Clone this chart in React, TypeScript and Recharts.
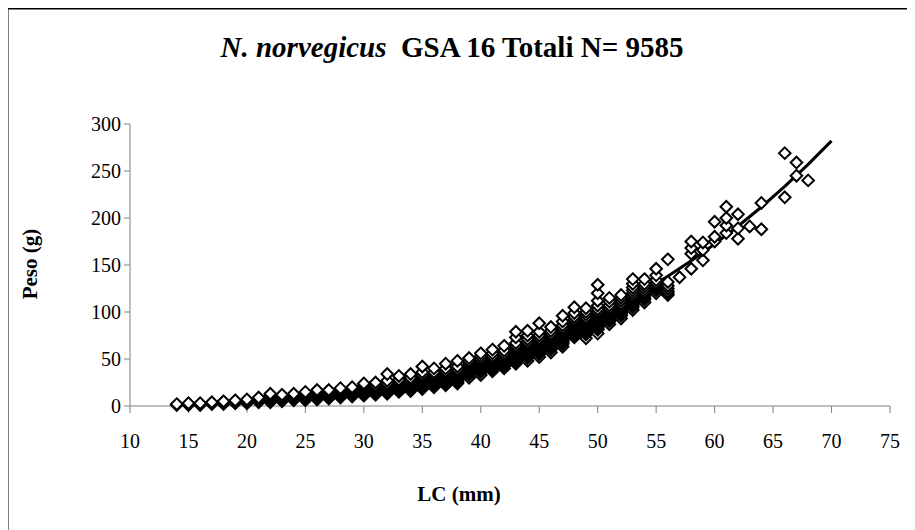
import React from 'react';
import { ScatterChart, Scatter, XAxis, YAxis } from 'recharts';

// LC (mm) classes and observed weights (g) per class
const lcClasses: number[] = [
  14, 15, 16, 17, 18, 19, 20, 21, 22, 23, 24, 25, 26, 27, 28, 29, 30, 31, 32, 33, 34,
  35, 36, 37, 38, 39, 40, 41, 42, 43, 44, 45, 46, 47, 48, 49, 50, 51, 52, 53, 54, 55,
  56, 57, 58, 59, 60, 61, 62, 63, 64, 66, 67, 68,
];

const weightsByClass: number[][] = [
  [1, 2],
  [1, 2, 3],
  [1, 2, 3],
  [2, 3, 4],
  [2, 3, 4, 5],
  [3, 4, 5, 6],
  [3, 4, 5, 6, 7],
  [4, 5, 6, 7, 9],
  [4, 5, 6, 7, 8, 9, 11, 13],
  [5, 6, 7, 8, 9, 10, 12],
  [6, 7, 8, 9, 10, 11, 13],
  [6, 7, 8, 9, 10, 11, 12, 13, 15],
  [7, 8, 9, 10, 11, 12, 13, 14, 15, 17],
  [8, 9, 10, 11, 12, 13, 14, 15, 17],
  [9, 10, 11, 12, 13, 14, 15, 16, 17, 19],
  [10, 11, 12, 13, 14, 15, 16, 17, 18, 20],
  [11, 12, 13, 14, 15, 16, 17, 18, 19, 20, 22, 24],
  [12, 13, 14, 15, 16, 17, 18, 19, 20, 21, 22, 25],
  [13, 14, 15, 16, 17, 18, 19, 20, 21, 22, 23, 24, 27, 34],
  [15, 16, 17, 18, 19, 20, 21, 22, 23, 24, 25, 26, 28, 32],
  [16, 17, 18, 19, 20, 21, 22, 23, 24, 25, 26, 27, 28, 30, 34],
  [18, 19, 20, 21, 22, 23, 24, 25, 26, 27, 28, 29, 30, 31, 33, 36, 42],
  [20, 21, 22, 23, 24, 25, 26, 27, 28, 29, 30, 31, 32, 34, 36, 40],
  [22, 23, 24, 25, 26, 27, 28, 29, 30, 31, 32, 33, 34, 35, 37, 40, 45],
  [24, 25, 26, 27, 28, 29, 30, 31, 32, 33, 34, 35, 36, 37, 39, 42, 48],
  [30, 33, 34, 35, 36, 37, 38, 39, 40, 41, 42, 43, 44, 46, 48, 51],
  [33, 36, 37, 38, 39, 40, 41, 42, 43, 44, 45, 46, 47, 48, 50, 53, 56],
  [37, 39, 40, 41, 42, 43, 44, 45, 46, 47, 48, 49, 50, 51, 53, 56, 60],
  [40, 42, 43, 44, 45, 46, 47, 48, 49, 50, 51, 52, 53, 54, 56, 59, 64],
  [45, 47, 48, 49, 50, 51, 52, 53, 54, 55, 56, 57, 58, 59, 60, 62, 64, 67, 73, 79],
  [48, 51, 52, 53, 54, 55, 56, 57, 58, 59, 60, 61, 62, 63, 64, 66, 68, 71, 75, 80],
  [52, 55, 56, 57, 58, 59, 60, 61, 62, 63, 64, 65, 66, 67, 68, 70, 72, 75, 79, 88],
  [57, 60, 61, 62, 63, 64, 65, 66, 67, 68, 69, 70, 71, 72, 73, 75, 77, 80, 84],
  [63, 66, 67, 68, 69, 70, 71, 72, 73, 74, 75, 76, 77, 78, 79, 81, 83, 86, 90, 96],
  [73, 75, 76, 77, 78, 79, 80, 81, 82, 83, 84, 85, 86, 87, 88, 89, 90, 92, 95, 99, 105],
  [72, 76, 77, 78, 79, 80, 81, 82, 83, 84, 85, 86, 87, 88, 89, 90, 92, 94, 97, 100, 104],
  [77, 81, 82, 83, 84, 85, 86, 87, 88, 89, 90, 91, 92, 93, 94, 95, 96, 98, 100, 103, 107, 112, 120, 129],
  [87, 90, 91, 92, 93, 94, 95, 96, 97, 98, 99, 100, 102, 104, 107, 111, 115],
  [93, 96, 97, 98, 99, 100, 101, 102, 103, 104, 105, 107, 109, 112, 115, 118],
  [102, 105, 107, 109, 111, 113, 115, 117, 120, 123, 126, 130, 135],
  [110, 113, 115, 117, 119, 121, 124, 127, 130, 135],
  [120, 123, 125, 127, 129, 131, 134, 139, 146],
  [118, 120, 122, 125, 128, 132, 156],
  [137],
  [146, 162, 168, 175],
  [155, 166, 174],
  [175, 180, 196],
  [184, 192, 200, 212],
  [178, 189, 204],
  [191],
  [188, 216],
  [222, 269],
  [245, 259],
  [240],
];

// Power trend line
const trendLC: number[] = [14, 16, 18, 20, 22, 24, 26, 28, 30, 32, 34, 36, 38, 40, 42, 44, 46, 48, 50, 52, 54, 56, 58, 60, 62, 64, 66, 68, 70];
const trendW: number[] = [1.6, 2.5, 3.7, 5.1, 6.9, 9.2, 11.8, 15, 18.7, 23, 28, 33.6, 39.9, 47, 55, 63.8, 73.6, 84.3, 96.1, 108.9, 122.9, 138.1, 154.5, 172.2, 191.2, 211.7, 233.6, 257, 282];

const xTicks: number[] = [10, 15, 20, 25, 30, 35, 40, 45, 50, 55, 60, 65, 70, 75];
const yTicks: number[] = [0, 50, 100, 150, 200, 250, 300];

const points = lcClasses.flatMap((lc, i) => weightsByClass[i].map((w) => ({ x: lc, y: w })));
const trend = trendLC.map((lc, i) => ({ x: lc, y: trendW[i] }));

const FONT = "'Liberation Serif', 'Times New Roman', Times, serif";

const Diamond = (props: any) => {
  const { cx, cy } = props;
  if (cx == null || cy == null) return <g />;
  const r = 5.8;
  return (
    <path
      d={`M${cx},${cy - r}L${cx + r},${cy}L${cx},${cy + r}L${cx - r},${cy}Z`}
      fill="#ffffff"
      stroke="#000000"
      strokeWidth={2}
    />
  );
};

const NoShape = () => <g />;

export default function App() {
  return (
    <div style={{ position: 'relative', width: 907, height: 522 }}>
      <ScatterChart
        width={907}
        height={522}
        margin={{ top: 116, right: 25, bottom: 94, left: 62 }}
        style={{ fontFamily: FONT }}
      >
        <XAxis
          type="number"
          dataKey="x"
          domain={[10, 75]}
          ticks={xTicks}
          interval={0}
          height={30}
          axisLine={{ stroke: '#808080' }}
          tickLine={{ stroke: '#808080' }}
          tickSize={7}
          tickMargin={21}
          tick={{ fill: '#000', fontSize: 20, fontFamily: FONT }}
          allowDecimals={false}
        />
        <YAxis
          type="number"
          dataKey="y"
          domain={[0, 300]}
          ticks={yTicks}
          interval={0}
          width={60}
          axisLine={{ stroke: '#808080' }}
          tickLine={{ stroke: '#808080' }}
          tickSize={6}
          tickMargin={3}
          tick={{ fill: '#000', fontSize: 20, fontFamily: FONT }}
        />
        <Scatter
          data={trend}
          shape={NoShape}
          line={{ stroke: '#000', strokeWidth: 3 }}
          isAnimationActive={false}
        />
        <Scatter data={points} shape={Diamond} isAnimationActive={false} />
      </ScatterChart>
      <svg
        width={915}
        height={530}
        style={{ position: 'absolute', left: -8, top: -8, pointerEvents: 'none', overflow: 'visible' }}
      >
        <line x1={7.5} y1={8} x2={7.5} y2={530} stroke="#000" strokeWidth={2} />
        <line x1={6.5} y1={8.5} x2={915} y2={8.5} stroke="#000" strokeWidth={2} />
        <text x={452} y={57} textAnchor="middle" fontFamily={FONT} fontSize={29} fontWeight="bold" fill="#000">
          <tspan fontStyle="italic">N. norvegicus</tspan>
          <tspan>{'\u00a0 GSA 16 Totali N= 9585'}</tspan>
        </text>
        <text x={459} y={501} textAnchor="middle" fontFamily={FONT} fontSize={21} fontWeight="bold" fill="#000">
          LC (mm)
        </text>
        <text
          x={0}
          y={0}
          transform="translate(30,264) rotate(-90)"
          textAnchor="middle"
          dominantBaseline="central"
          fontFamily={FONT}
          fontSize={21}
          fontWeight="bold"
          fill="#000"
        >
          Peso (g)
        </text>
      </svg>
    </div>
  );
}
